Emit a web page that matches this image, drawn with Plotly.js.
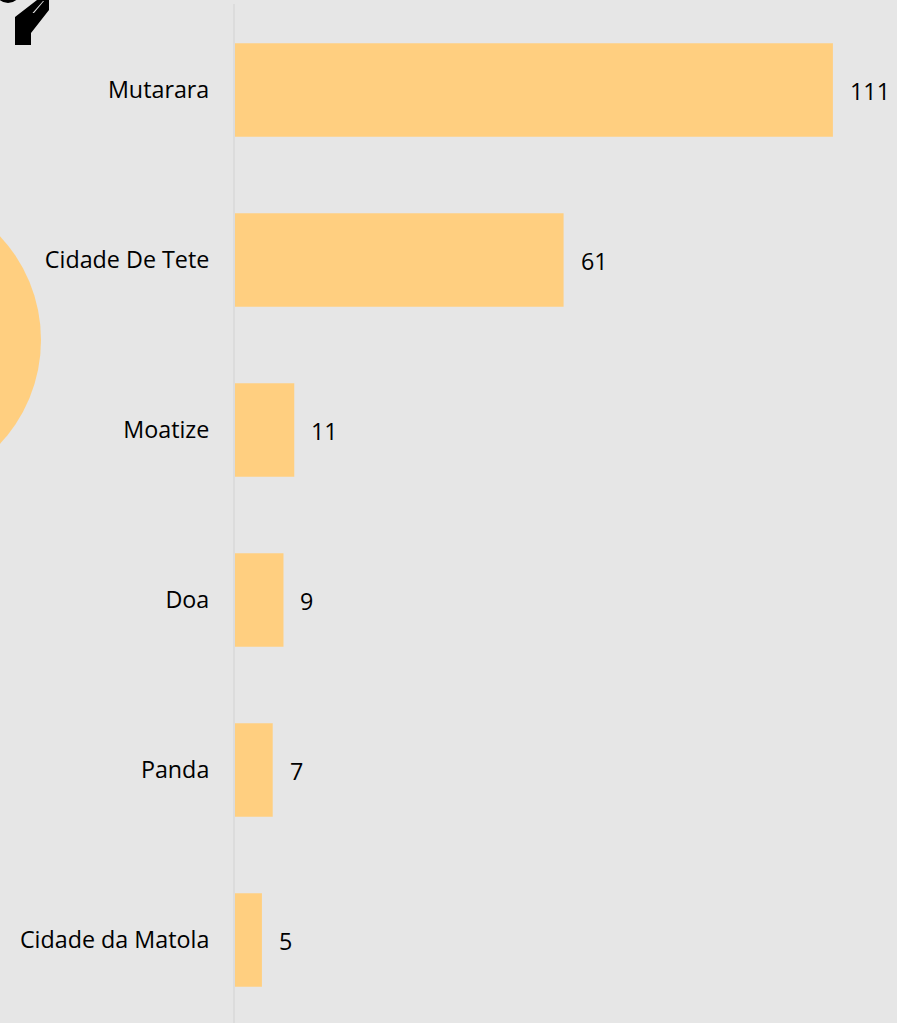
<!DOCTYPE html>
<html>
<head>
<meta charset="utf-8">
<script src="https://cdn.plot.ly/plotly-3.0.1.min.js"></script>
<style>html,body{margin:0;padding:0;background:#e6e6e6;overflow:hidden}</style>
</head>
<body>
<div id="chart" style="width:897px;height:1023px"></div>
<script>
var categories = ["Mutarara","Cidade De Tete","Moatize","Doa","Panda","Cidade da Matola"];
var values = [111,61,11,9,7,5];
var W=897,H=1023,L=235,T=4;
function px(x){return (x-L)/(W-L);}
function py(y){return 1-(y-T)/(H-T);}
function pathOf(pts){return pts.map(function(p,i){return (i?'L':'M')+px(p[0])+','+py(p[1]);}).join(' ')+' Z';}
var hand=[[49,0],[49,10],[31,33],[31,45],[15,45],[15,17],[37,0]];
var sliver=[[32.5,13],[34,13],[44,1],[43,1]];
var shapes=[
 {type:'circle',xref:'paper',yref:'paper',layer:'below',x0:px(-263),x1:px(41),y0:py(188),y1:py(492),fillcolor:'#ffcf80',line:{width:0}},
 {type:'path',xref:'paper',yref:'paper',path:pathOf(hand),fillcolor:'#000',line:{width:0}},
 {type:'path',xref:'paper',yref:'paper',path:pathOf(sliver),fillcolor:'#e6e6e6',line:{width:0}},
 {type:'circle',xref:'paper',yref:'paper',x0:px(-5),x1:px(21),y0:py(-23),y1:py(3),fillcolor:'#000',line:{width:0}}
];
var annotations=categories.map(function(c,i){
 return {x:values[i],y:c,text:String(values[i]),showarrow:false,xanchor:'left',xshift:15,yshift:-1,
  font:{family:'Open Sans',size:23.3,color:'#000'}};
});
Plotly.newPlot('chart',[{
 type:'bar',orientation:'h',x:values,y:categories,width:0.55,
 marker:{color:'#ffcf80',line:{width:0}},hoverinfo:'none'
}],{
 width:W,height:H,margin:{l:L,r:0,t:T,b:0,pad:0},
 paper_bgcolor:'#e6e6e6',plot_bgcolor:'#e6e6e6',showlegend:false,
 xaxis:{range:[0,122.9],visible:false,fixedrange:true},
 yaxis:{type:'category',categoryorder:'array',categoryarray:categories,range:[5.488,-0.506],
  showgrid:false,zeroline:false,showline:true,linecolor:'#dcdcdc',linewidth:2,ticks:'',ticklabelstandoff:19,
  tickfont:{family:'Open Sans',size:23.3,color:'#000'}},
 shapes:shapes,annotations:annotations
},{displayModeBar:false,staticPlot:true});
</script>
</body>
</html>
